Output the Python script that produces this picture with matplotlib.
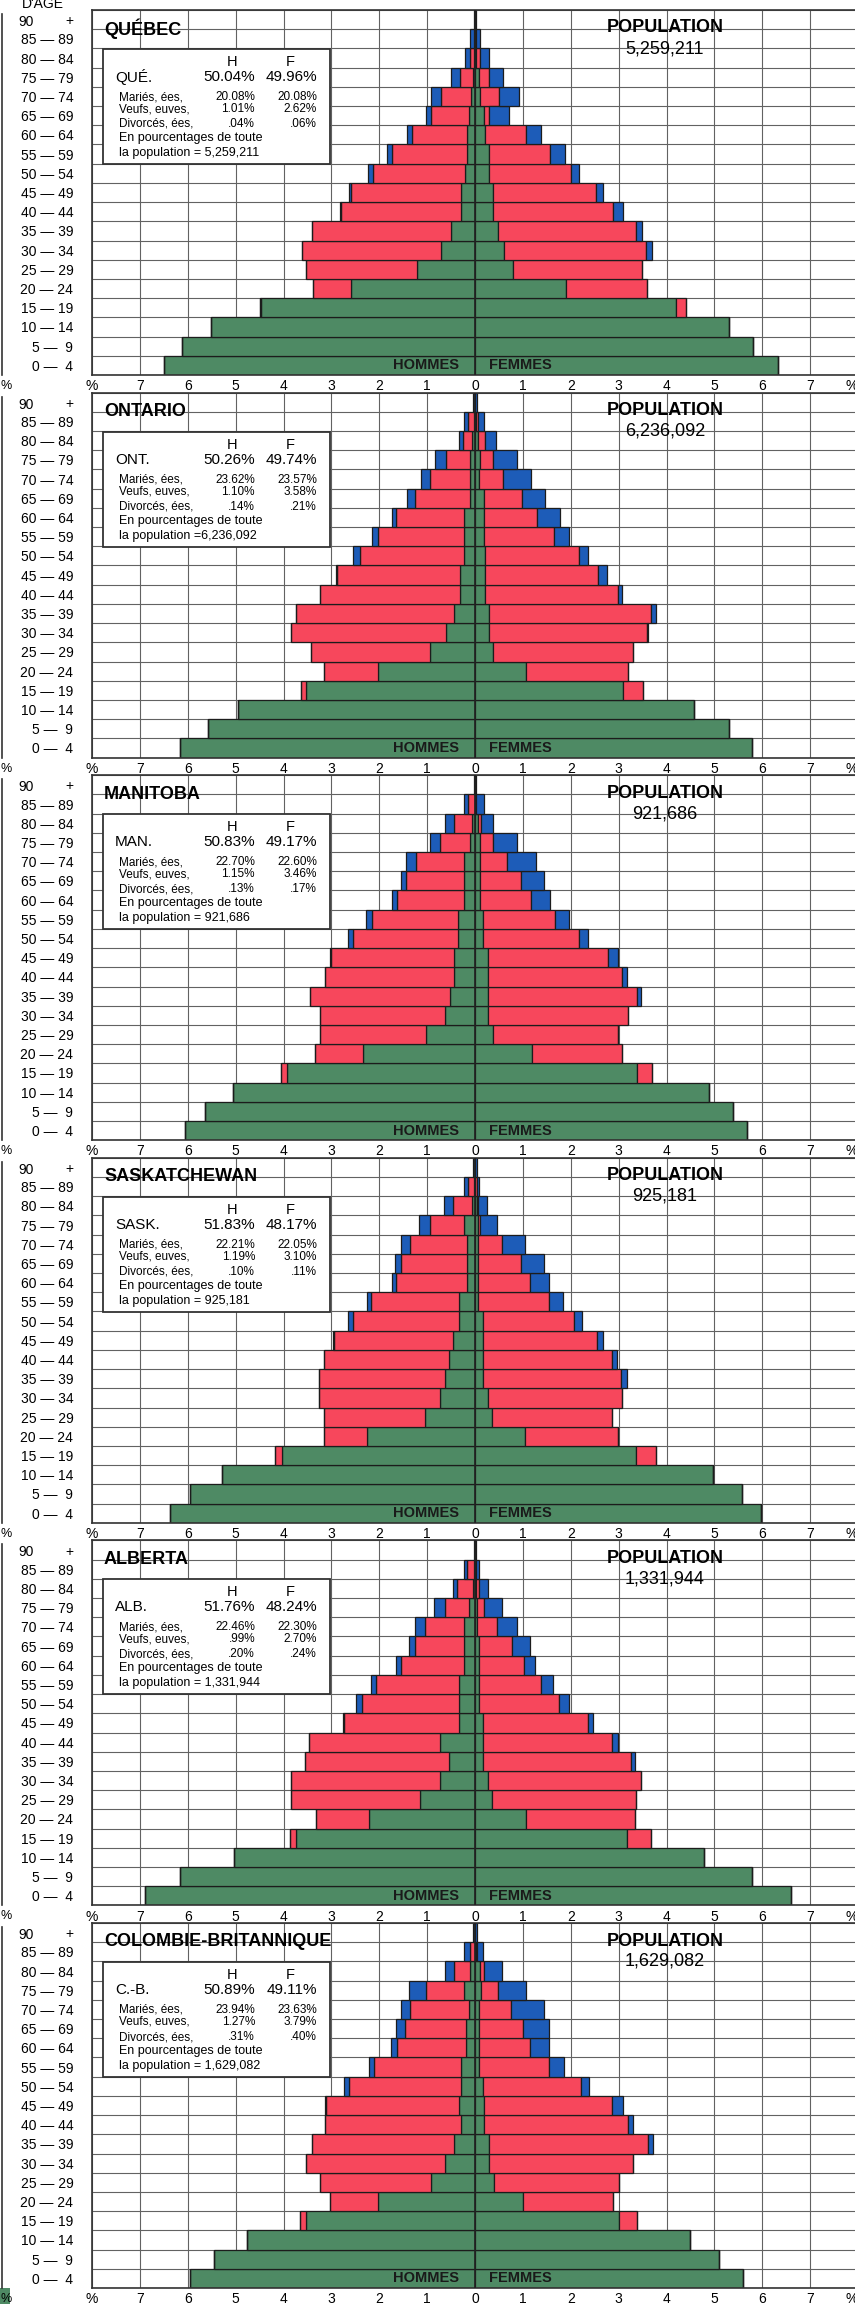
import matplotlib
matplotlib.use('Agg')
import matplotlib.pyplot as plt
from matplotlib.patches import Rectangle
from matplotlib.lines import Line2D
import numpy as np

plt.rcParams['font.family'] = ['Liberation Sans', 'DejaVu Sans']

# age groups, bottom (0-4) to top (90+)
ages = ['0 —  4', '5 —  9', '10 — 14', '15 — 19', '20 — 24', '25 — 29', '30 — 34',
        '35 — 39', '40 — 44', '45 — 49', '50 — 54', '55 — 59', '60 — 64', '65 — 69',
        '70 — 74', '75 — 79', '80 — 84', '85 — 89', '+']

# values in % of the whole provincial population
# h = hommes, f = femmes ; cel = célibataires, mar = mariés, veu = veufs
que_h_cel = [6.49, 6.11, 5.51, 4.47, 2.60, 1.22, 0.71, 0.50, 0.30, 0.30, 0.20, 0.17, 0.17, 0.13, 0.09, 0.05, 0.02, 0.01, 0.00]
que_h_mar = [0, 0, 0, 0.02, 0.79, 2.30, 2.91, 2.90, 2.50, 2.29, 1.93, 1.57, 1.15, 0.78, 0.62, 0.26, 0.09, 0.02, 0.00]
que_h_veu = [0, 0, 0, 0, 0, 0, 0, 0, 0.03, 0.04, 0.11, 0.10, 0.11, 0.12, 0.20, 0.20, 0.09, 0.07, 0.02]
que_f_cel = [6.33, 5.80, 5.30, 4.20, 1.90, 0.79, 0.61, 0.49, 0.38, 0.37, 0.29, 0.29, 0.20, 0.19, 0.10, 0.08, 0.02, 0.01, 0.00]
que_f_mar = [0, 0, 0, 0.21, 1.69, 2.69, 2.96, 2.88, 2.50, 2.15, 1.71, 1.28, 0.87, 0.11, 0.41, 0.22, 0.08, 0.01, 0.00]
que_f_veu = [0, 0, 0, 0, 0, 0, 0.12, 0.11, 0.21, 0.16, 0.18, 0.30, 0.30, 0.40, 0.40, 0.28, 0.19, 0.08, 0.02]

ont_h_cel = [6.17, 5.57, 4.96, 3.52, 2.03, 0.93, 0.61, 0.43, 0.32, 0.32, 0.22, 0.22, 0.22, 0.10, 0.10, 0.10, 0.06, 0.02, 0.00]
ont_h_mar = [0, 0, 0, 0.12, 1.12, 2.50, 3.23, 3.30, 2.91, 2.57, 2.19, 1.81, 1.42, 1.15, 0.83, 0.51, 0.19, 0.13, 0.01]
ont_h_veu = [0, 0, 0, 0, 0, 0, 0, 0, 0, 0.02, 0.13, 0.12, 0.09, 0.18, 0.20, 0.22, 0.09, 0.07, 0.04]
ont_f_cel = [5.79, 5.30, 4.57, 3.09, 1.07, 0.37, 0.29, 0.29, 0.20, 0.20, 0.20, 0.18, 0.18, 0.18, 0.09, 0.11, 0.07, 0.03, 0.00]
ont_f_mar = [0, 0, 0, 0.41, 2.13, 2.93, 3.30, 3.39, 2.78, 2.37, 1.98, 1.48, 1.11, 0.80, 0.50, 0.26, 0.13, 0.04, 0.01]
ont_f_veu = [0, 0, 0, 0, 0, 0, 0.02, 0.10, 0.09, 0.18, 0.18, 0.31, 0.48, 0.48, 0.57, 0.50, 0.24, 0.11, 0.04]

man_h_cel = [6.05, 5.65, 5.05, 3.92, 2.33, 1.03, 0.62, 0.53, 0.43, 0.43, 0.35, 0.35, 0.22, 0.22, 0.22, 0.11, 0.06, 0.01, 0.00]
man_h_mar = [0, 0, 0, 0.13, 1.02, 2.21, 2.62, 2.91, 2.71, 2.58, 2.20, 1.81, 1.41, 1.22, 1.02, 0.63, 0.37, 0.13, 0.00]
man_h_veu = [0, 0, 0, 0, 0, 0, 0, 0, 0, 0.02, 0.11, 0.11, 0.11, 0.11, 0.20, 0.20, 0.20, 0.09, 0.02]
man_f_cel = [5.69, 5.39, 4.89, 3.39, 1.19, 0.37, 0.28, 0.28, 0.28, 0.28, 0.17, 0.17, 0.10, 0.10, 0.10, 0.10, 0.06, 0.01, 0.00]
man_f_mar = [0, 0, 0, 0.30, 1.89, 2.62, 2.91, 3.10, 2.80, 2.50, 2.00, 1.50, 1.07, 0.87, 0.57, 0.27, 0.06, 0.02, 0.00]
man_f_veu = [0, 0, 0, 0, 0, 0, 0, 0.09, 0.09, 0.21, 0.20, 0.30, 0.40, 0.48, 0.61, 0.50, 0.25, 0.16, 0.02]

sas_h_cel = [6.37, 5.96, 5.28, 4.04, 2.26, 1.04, 0.74, 0.63, 0.55, 0.45, 0.33, 0.33, 0.17, 0.17, 0.17, 0.22, 0.07, 0.02, 0.00]
sas_h_mar = [0, 0, 0, 0.13, 0.89, 2.11, 2.52, 2.63, 2.60, 2.49, 2.22, 1.84, 1.48, 1.38, 1.18, 0.72, 0.38, 0.13, 0.00]
sas_h_veu = [0, 0, 0, 0, 0, 0, 0, 0, 0, 0.02, 0.10, 0.09, 0.09, 0.12, 0.20, 0.22, 0.20, 0.09, 0.05]
sas_f_cel = [5.98, 5.58, 4.98, 3.37, 1.04, 0.35, 0.28, 0.17, 0.16, 0.16, 0.16, 0.06, 0.06, 0.06, 0.06, 0.06, 0.04, 0.01, 0.00]
sas_f_mar = [0, 0, 0, 0.41, 1.94, 2.52, 2.79, 2.89, 2.71, 2.39, 1.90, 1.49, 1.09, 0.90, 0.51, 0.05, 0.03, 0.03, 0.00]
sas_f_veu = [0, 0, 0, 0, 0, 0, 0, 0.11, 0.10, 0.12, 0.18, 0.29, 0.40, 0.49, 0.47, 0.34, 0.19, 0.04, 0.05]

alb_h_cel = [6.90, 6.16, 5.04, 3.74, 2.22, 1.15, 0.74, 0.54, 0.74, 0.33, 0.33, 0.33, 0.22, 0.22, 0.22, 0.13, 0.05, 0.02, 0.00]
alb_h_mar = [0, 0, 0, 0.13, 1.11, 2.69, 3.10, 3.01, 2.72, 2.41, 2.02, 1.73, 1.33, 1.04, 0.82, 0.50, 0.32, 0.15, 0.00]
alb_h_veu = [0, 0, 0, 0, 0, 0, 0, 0, 0, 0.02, 0.13, 0.11, 0.10, 0.11, 0.22, 0.22, 0.08, 0.07, 0.02]
alb_f_cel = [6.61, 5.78, 4.78, 3.17, 1.06, 0.35, 0.28, 0.17, 0.17, 0.17, 0.09, 0.09, 0.09, 0.09, 0.05, 0.05, 0.03, 0.01, 0.00]
alb_f_mar = [0, 0, 0, 0.50, 2.29, 3.02, 3.18, 3.09, 2.70, 2.20, 1.67, 1.28, 0.93, 0.68, 0.41, 0.13, 0.06, 0.01, 0.00]
alb_f_veu = [0, 0, 0, 0, 0, 0, 0, 0.09, 0.11, 0.09, 0.21, 0.26, 0.24, 0.38, 0.41, 0.39, 0.19, 0.07, 0.02]

cb_h_cel = [5.96, 5.46, 4.76, 3.52, 2.02, 0.91, 0.63, 0.43, 0.30, 0.33, 0.30, 0.30, 0.19, 0.19, 0.13, 0.22, 0.10, 0.01, 0.00]
cb_h_mar = [0, 0, 0, 0.13, 1.01, 2.33, 2.91, 2.98, 2.83, 2.78, 2.33, 1.80, 1.44, 1.27, 1.22, 0.81, 0.33, 0.09, 0.00]
cb_h_veu = [0, 0, 0, 0, 0, 0, 0, 0, 0, 0.02, 0.11, 0.12, 0.13, 0.19, 0.20, 0.34, 0.20, 0.12, 0.04]
cb_f_cel = [5.59, 5.10, 4.50, 3.00, 1.00, 0.39, 0.30, 0.30, 0.19, 0.19, 0.17, 0.09, 0.09, 0.09, 0.09, 0.13, 0.10, 0.02, 0.00]
cb_f_mar = [0, 0, 0, 0.39, 1.89, 2.61, 3.00, 3.31, 3.01, 2.68, 2.05, 1.46, 1.06, 0.91, 0.67, 0.35, 0.08, 0.03, 0.00]
cb_f_veu = [0, 0, 0, 0, 0, 0, 0, 0.11, 0.09, 0.22, 0.17, 0.30, 0.40, 0.55, 0.69, 0.59, 0.39, 0.12, 0.04]

noms = ['QUÉBEC', 'ONTARIO', 'MANITOBA', 'SASKATCHEWAN', 'ALBERTA', 'COLOMBIE-BRITANNIQUE']
abrev = ['QUÉ.', 'ONT.', 'MAN.', 'SASK.', 'ALB.', 'C.-B.']
populations = ['5,259,211', '6,236,092', '921,686', '925,181', '1,331,944', '1,629,082']
pop_texte = ['= 5,259,211', '=6,236,092', '= 921,686', '= 925,181', '= 1,331,944', '= 1,629,082']
pct_h = ['50.04%', '50.26%', '50.83%', '51.83%', '51.76%', '50.89%']
pct_f = ['49.96%', '49.74%', '49.17%', '48.17%', '48.24%', '49.11%']
maries_h = ['20.08%', '23.62%', '22.70%', '22.21%', '22.46%', '23.94%']
maries_f = ['20.08%', '23.57%', '22.60%', '22.05%', '22.30%', '23.63%']
veufs_h = ['1.01%', '1.10%', '1.15%', '1.19%', '.99%', '1.27%']
veufs_f = ['2.62%', '3.58%', '3.46%', '3.10%', '2.70%', '3.79%']
divorces_h = ['.04%', '.14%', '.13%', '.10%', '.20%', '.31%']
divorces_f = ['.06%', '.21%', '.17%', '.11%', '.24%', '.40%']

hommes = [(que_h_cel, que_h_mar, que_h_veu), (ont_h_cel, ont_h_mar, ont_h_veu),
          (man_h_cel, man_h_mar, man_h_veu), (sas_h_cel, sas_h_mar, sas_h_veu),
          (alb_h_cel, alb_h_mar, alb_h_veu), (cb_h_cel, cb_h_mar, cb_h_veu)]
femmes = [(que_f_cel, que_f_mar, que_f_veu), (ont_f_cel, ont_f_mar, ont_f_veu),
          (man_f_cel, man_f_mar, man_f_veu), (sas_f_cel, sas_f_mar, sas_f_veu),
          (alb_f_cel, alb_f_mar, alb_f_veu), (cb_f_cel, cb_f_mar, cb_f_veu)]

xticklabels = ['%'] + [str(i) for i in range(7, 0, -1)] + ['0'] + [str(i) for i in range(1, 8)] + ['%']

VERT = '#4e8a64'
ROUGE = '#f7475c'
BLEU = '#1d5cb8'
EDGE = '#1c1c1c'
GRID = '#626262'

W, H = 855, 2304
fig = plt.figure(figsize=(W / 100, H / 100), dpi=100)


def fx(px):
    return px / W


def fy(py):
    return 1 - py / H


y = np.arange(len(ages))
for i in range(6):
    top = 10 + 382.6 * i
    ax = fig.add_axes([fx(92), fy(top + 365), 766 / W, 365 / H])

    g, r, w = [np.array(v) for v in hommes[i]]
    ax.barh(y, -g, height=1, color=VERT, edgecolor=EDGE, lw=0.9, zorder=2)
    ax.barh(y, -r, left=-g, height=1, color=ROUGE, edgecolor=EDGE, lw=0.9, zorder=2)
    ax.barh(y, -w, left=-(g + r), height=1, color=BLEU, edgecolor=EDGE, lw=0.9, zorder=2)
    g, r, w = [np.array(v) for v in femmes[i]]
    ax.barh(y, g, height=1, color=VERT, edgecolor=EDGE, lw=0.9, zorder=2)
    ax.barh(y, r, left=g, height=1, color=ROUGE, edgecolor=EDGE, lw=0.9, zorder=2)
    ax.barh(y, w, left=g + r, height=1, color=BLEU, edgecolor=EDGE, lw=0.9, zorder=2)

    ax.axvline(0, color='#222222', lw=1.2, zorder=4)
    ax.set_xlim(-8, 8)
    ax.set_ylim(-0.5, len(ages) - 0.5)
    ax.set_xticks(range(-8, 9))
    ax.set_xticklabels(xticklabels)
    # keep the right-hand % inside the page
    ax.get_xticklabels()[-1].set_horizontalalignment('right')
    ax.set_yticks(y)
    ax.set_yticklabels(ages)
    ax.set_yticks(np.arange(-0.5, len(ages), 1), minor=True)
    ax.tick_params(axis='x', length=0, pad=3, labelsize=10)
    ax.tick_params(axis='y', which='both', length=0, pad=13.5, labelsize=10)
    ax.grid(axis='x', color=GRID, lw=0.8, zorder=0)
    ax.grid(axis='y', which='minor', color=GRID, lw=0.8, zorder=0)
    ax.grid(axis='y', which='major', visible=False)
    ax.set_axisbelow(True)
    for s in ax.spines.values():
        s.set_color('#333333')
        s.set_linewidth(1.2)

    ax.text(-0.33, 0, 'HOMMES', ha='right', va='center', fontsize=10.5,
            fontweight='bold', color='#1a1a1a', zorder=5)
    ax.text(0.29, 0, 'FEMMES', ha='left', va='center', fontsize=10.5,
            fontweight='bold', color='#1a1a1a', zorder=5)

    # "90" part of the top age label
    fig.text(fx(18), fy(top + 12), '90', ha='left', va='center', fontsize=10)

    # titles
    fig.text(fx(104), fy(top + 19), noms[i], ha='left', va='center',
             fontsize=13, fontweight='bold')
    fig.text(fx(665), fy(top + 18), 'POPULATION', ha='center', va='center',
             fontsize=13, fontweight='bold')
    fig.text(fx(665), fy(top + 38.5), populations[i], ha='center', va='center',
             fontsize=13)

    # info box
    fig.add_artist(Rectangle((fx(103), fy(top + 154)), (330 - 103) / W, 115 / H,
                             transform=fig.transFigure, facecolor='white',
                             edgecolor='#333333', lw=1.3, zorder=1))
    fig.text(fx(232), fy(top + 52), 'H', ha='center', va='center', fontsize=10.5, zorder=3)
    fig.text(fx(290), fy(top + 52), 'F', ha='center', va='center', fontsize=10.5, zorder=3)
    fig.text(fx(115), fy(top + 67), abrev[i], ha='left', va='center', fontsize=11, zorder=3)
    fig.text(fx(255), fy(top + 67), pct_h[i], ha='right', va='center', fontsize=11, zorder=3)
    fig.text(fx(317), fy(top + 67), pct_f[i], ha='right', va='center', fontsize=11, zorder=3)
    lignes = [('Mariés, ées,', maries_h[i], maries_f[i], 87),
              ('Veufs, euves,', veufs_h[i], veufs_f[i], 99),
              ('Divorcés, ées,', divorces_h[i], divorces_f[i], 114)]
    for lab, vh, vf, dy in lignes:
        fig.text(fx(119), fy(top + dy), lab, ha='left', va='center', fontsize=8.5, zorder=3)
        fig.text(fx(255), fy(top + dy), vh, ha='right', va='center', fontsize=8.5, zorder=3)
        fig.text(fx(317), fy(top + dy), vf, ha='right', va='center', fontsize=8.5, zorder=3)
    fig.text(fx(119), fy(top + 128), 'En pourcentages de toute', ha='left',
             va='center', fontsize=9, zorder=3)
    fig.text(fx(119), fy(top + 143), 'la population ' + pop_texte[i], ha='left',
             va='center', fontsize=9, zorder=3)

    # left page margin line and % mark
    fig.add_artist(Line2D([fx(2), fx(2)], [fy(top + 4), fy(top + 365)],
                          color='#333333', lw=1.2))
    fig.text(fx(0.5), fy(top + 376), '%', ha='left', va='center', fontsize=9)

fig.text(fx(22), fy(8), "D'ÂGE", ha='left', va='baseline', fontsize=10)
fig.add_artist(Rectangle((0, 0), 10 / W, 16 / H, transform=fig.transFigure,
                         facecolor=VERT, edgecolor='none'))

fig.savefig('out.png', dpi=100)
